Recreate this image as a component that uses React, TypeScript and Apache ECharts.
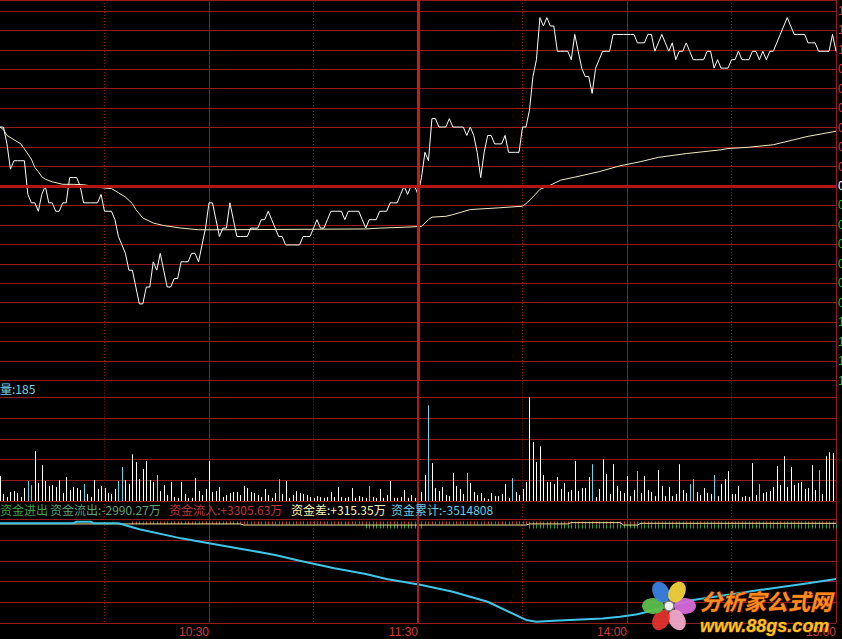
import React, { useEffect, useRef } from 'react';
import * as echarts from 'echarts';

// ---------- data ----------
const PREV_CLOSE = 15.4; // yuan
const TIME_LABELS: Record<number, string> = { 60: '10:30', 120: '11:30', 180: '14:00', 240: '15:00' };

// price per minute, in cents above the previous close (09:30 .. 15:00, lunch removed)
const priceCents = [
  7, 7, 5, 2, 3, 3, 3, 3, -1, -2,
  -2, -3, -1, 0, -2, -2, -3, -3, -2, -2,
  1, 1, 1, 0, -2, -2, -2, -2, -2, -1,
  -3, -3, -3, -4, -6, -7, -8, -10, -10, -12,
  -14, -14, -12, -12, -9, -10, -8, -10, -12, -12,
  -11, -11, -9, -9, -9, -8, -8, -9, -7, -5,
  -2, -2, -4, -6, -5, -5, -2, -4, -6, -6,
  -6, -6, -5, -5, -5, -4, -4, -3, -4, -5,
  -6, -6, -7, -7, -7, -7, -7, -6, -6, -6,
  -5, -4, -5, -5, -4, -3, -3, -3, -3, -4,
  -3, -3, -3, -3, -4, -5, -4, -4, -4, -3,
  -3, -3, -2, -2, -2, -1, 0, -1, 0, 0,
  -1, 1, 4, 3, 8, 8, 7, 7, 7, 8,
  7, 7, 7, 7, 6, 7, 6, 4, 1, 4,
  6, 6, 5, 5, 5, 6, 4, 4, 4, 4,
  7, 7, 9, 13, 15, 20, 19, 20, 19, 19,
  16, 16, 16, 16, 15, 18, 16, 14, 13, 13,
  11, 14, 15, 16, 16, 16, 18, 18, 18, 18,
  18, 18, 18, 17, 17, 17, 18, 18, 16, 17,
  18, 17, 16, 17, 15, 16, 16, 17, 16, 15,
  15, 15, 15, 16, 16, 14, 15, 14, 14, 14,
  15, 15, 16, 15, 15, 15, 16, 16, 15, 16,
  15, 16, 16, 17, 18, 19, 20, 19, 18, 18,
  18, 18, 17, 17, 17, 16, 16, 16, 16, 18,
  16,
];

// average price line, [minute, cents above previous close]
const avgCentsKeys: [number, number][] = [
  [0, 7.0], [1, 6.7], [2, 6.0], [4, 5.5], [6, 5.0], [7, 4.4], [9, 3.2], [10, 2.2], [11, 1.7], [12, 1.1],
  [13, 0.8], [15, 0.5], [18, 0.2], [21, 0.2], [24, 0.15], [27, -0.05], [30, -0.25], [32, -0.3], [34, -0.8],
  [36, -1.3], [38, -2.1], [39, -2.8], [41, -3.8], [44, -4.4], [47, -4.7], [52, -5.0], [57, -5.2], [62, -5.2],
  [105, -5.1], [109, -5.0], [116, -4.9], [121, -4.8], [123, -4.0], [124, -3.7], [128, -3.6], [130, -3.4],
  [135, -2.8], [143, -2.6], [150, -2.4], [151, -2.1], [153, -1.3], [155, -0.4], [158, 0.1], [161, 0.7],
  [165, 1.05], [172, 1.7], [178, 2.4], [184, 2.9], [189, 3.4], [197, 3.85], [207, 4.3], [209, 4.45],
  [215, 4.6], [222, 4.9], [228, 5.5], [232, 5.9], [240, 6.5],
];

// volume per minute (lots)
const volumes = [
  96, 27, 15, 35, 38, 31, 15, 50, 77, 61,
  192, 69, 138, 77, 58, 61, 54, 81, 31, 92,
  42, 54, 50, 42, 65, 27, 15, 81, 46, 58,
  50, 31, 27, 46, 77, 131, 81, 65, 180, 150,
  84, 123, 154, 81, 73, 100, 38, 61, 23, 73,
  15, 12, 73, 27, 12, 12, 88, 38, 23, 46,
  154, 35, 38, 54, 15, 23, 31, 35, 35, 23,
  58, 50, 35, 31, 23, 15, 46, 23, 12, 31,
  84, 27, 77, 12, 23, 38, 31, 27, 23, 15,
  12, 19, 15, 12, 15, 35, 15, 54, 15, 12,
  15, 50, 12, 19, 15, 12, 58, 15, 12, 46,
  12, 23, 77, 12, 12, 15, 42, 12, 23, 12,
  84, 35, 100, 369, 146, 50, 38, 54, 23, 19,
  108, 58, 46, 27, 108, 69, 35, 23, 31, 12,
  8, 31, 19, 19, 27, 65, 12, 88, 35, 23,
  46, 73, 400, 227, 150, 211, 100, 73, 73, 65,
  92, 46, 69, 35, 42, 154, 38, 50, 50, 92,
  142, 15, 46, 161, 104, 27, 142, 58, 38, 31,
  96, 19, 42, 115, 31, 96, 42, 35, 19, 119,
  58, 19, 54, 19, 27, 142, 42, 31, 65, 84,
  35, 23, 50, 31, 27, 100, 19, 65, 84, 115,
  27, 27, 58, 15, 19, 15, 146, 23, 65, 31,
  35, 38, 54, 134, 61, 173, 54, 131, 61, 69,
  73, 46, 50, 138, 42, 119, 27, 173, 188, 185,
];
// minutes whose volume bar is drawn in cyan (price fell)
const downVolumeMinutes = [8, 9, 24, 34, 35, 45, 80, 106, 120, 123, 134, 147, 170, 183, 198, 199, 205, 218, 235];

// cumulative fund flow, [minute, 万元]
const flowCumKeys: [number, number][] = [
  [0, 0], [21, 0], [22, 10], [26, 10], [27, 0], [34, 0], [40, -38], [52, -95], [60, -126], [71, -168],
  [79, -200], [86, -236], [96, -284], [105, -320], [111, -351], [121, -389], [130, -432], [140, -495],
  [151, -610], [154, -621], [159, -615], [173, -600], [178, -589], [183, -574], [199, -484], [218, -421],
  [232, -379], [240, -351.48],
];
// fund difference line, [minute, 万元]
const flowDiffKeys: [number, number][] = [
  [0, -4], [69, -4], [70, -11], [151, -11], [152, -4], [163, -4], [164, 4], [178, 4], [179, -11],
  [183, -11], [184, 0], [240, 0],
];
// minute spans with inflow ticks (red, up) and outflow ticks (green, down)
const inflowSpans: [number, number][] = [[38, 240]];
const outflowSpans: [number, number][] = [[105, 121], [152, 240]];

const flowHeaderTexts = ['资金进出', '资金流出:-2990.27万', '资金流入:+3305.63万', '资金差:+315.35万', '资金累计:-3514808'];
const flowHeaderColors = ['#41a245', '#5ea374', '#c23636', '#fff6b4', '#66cfe4'];

// ---------- styles ----------
const GRID = '#931c1c';
const GRID_DOT = '#8a1a1a';
const FONT = "'Liberation Sans','Noto Sans CJK SC',sans-serif";
const CJK = "'Noto Sans CJK SC','Liberation Sans',sans-serif";

export default function App() {
  const ref = useRef<HTMLDivElement>(null);
  useEffect(() => {
    document.body.style.margin = '0';
    document.body.style.background = '#000';
    const chart = echarts.init(ref.current!, null, { renderer: 'svg' });
    const toPct = (c: number) => (c / 100 / PREV_CLOSE) * 100;
    const priceData = priceCents.map((c, i) => [i, toPct(c)]);
    const avgData = avgCentsKeys.map(([m, c]) => [m, toPct(c)]);
    const downSet = new Set(downVolumeMinutes);
    const volData = volumes.map((v, i) => [i, v, downSet.has(i) ? 1 : 0]);

    const W = 836;
    const MAIN_H = 380.5;
    const VOL_TOP = 380.5, VOL_H = 120.5;
    const FLOW_TOP = 501, FLOW_H = 122.2;
    const FLOW_ZERO_Y = 523.3, FLOW_PX = 0.15847;

    const xAxisFor = (gridIndex: number, labels: boolean) => ({
      type: 'value', gridIndex, min: 0, max: 240, interval: 60,
      axisLine: { show: false }, axisTick: { show: false },
      axisLabel: labels
        ? {
            show: true, showMinLabel: false, showMaxLabel: true, align: 'right', margin: 3,
            color: '#d23c3c', fontSize: 12, fontFamily: FONT,
            formatter: (v: number) => TIME_LABELS[Math.round(v)] ?? '',
          }
        : { show: false },
      splitLine: { show: true, showMinLine: false, showMaxLine: true, lineStyle: { color: GRID, width: 1 } },
      minorTick: { show: false, splitNumber: 2 },
      minorSplitLine: { show: true, lineStyle: { color: GRID_DOT, type: [1, 2], width: 1 } },
    });

    const thickMain = { xAxis: 120, lineStyle: { color: '#c21d1d', width: 3, type: 'solid' } };
    const thickLow = { xAxis: 120, lineStyle: { color: '#a81b1b', width: 2, type: 'solid' } };
    const markLineBase = { silent: true, symbol: ['none', 'none'], label: { show: false }, animation: false };

    const headerX = [0, 50, 169, 291, 391];

    const petals = [
      { a: 0, c: '#d66ad8' }, { a: 60, c: '#f3a9c9' }, { a: 120, c: '#e2332e' },
      { a: 180, c: '#5cbf4b' }, { a: 240, c: '#3b82e0' }, { a: 300, c: '#f2d23a' },
    ];
    const fcx = 669, fcy = 606, fr = 16;

    const gridBase = { left: 0, width: W, containLabel: false, outerBoundsMode: 'none' };

    const option: any = {
      animation: false,
      backgroundColor: '#000000',
      grid: [
        { ...gridBase, top: 0, height: MAIN_H },
        { ...gridBase, top: VOL_TOP, height: VOL_H },
        { ...gridBase, top: FLOW_TOP, height: FLOW_H },
      ],
      xAxis: [xAxisFor(0, false), xAxisFor(1, false), xAxisFor(2, true)],
      yAxis: [
        {
          type: 'value', gridIndex: 0, position: 'right', min: -1.5, max: 1.4344, interval: 0.15,
          axisLine: { show: false }, axisTick: { show: false },
          axisLabel: {
            show: true, margin: 2, fontSize: 12, fontFamily: FONT,
            formatter: (v: number) => Math.abs(v).toFixed(2) + '%',
            color: (v: any) => {
              const n = Number(v);
              return n > 1e-9 ? '#e23434' : n < -1e-9 ? '#23c023' : '#ffffff';
            },
          },
          splitLine: { show: true, lineStyle: { color: GRID, width: 1 } },
        },
        {
          type: 'value', gridIndex: 1, min: 0, max: 464.6, interval: 80,
          axisLine: { show: false }, axisTick: { show: false }, axisLabel: { show: false },
          splitLine: { show: true, lineStyle: { color: GRID, width: 1 } },
        },
        {
          type: 'value', gridIndex: 2, min: 0, max: FLOW_H / 20.8, interval: 1,
          axisLine: { show: false }, axisTick: { show: false }, axisLabel: { show: false },
          splitLine: { show: true, lineStyle: { color: GRID, width: 1 } },
        },
        {
          type: 'value', gridIndex: 2, show: false,
          min: -(FLOW_TOP + FLOW_H - FLOW_ZERO_Y) / FLOW_PX,
          max: (FLOW_ZERO_Y - FLOW_TOP) / FLOW_PX,
          splitLine: { show: false },
        },
      ],
      series: [
        {
          type: 'line', xAxisIndex: 0, yAxisIndex: 0, data: [], z: 1, silent: true,
          markLine: {
            ...markLineBase,
            data: [{ yAxis: 0, lineStyle: { color: '#b31515', width: 3, type: 'solid' } }, thickMain],
          },
        },
        {
          name: 'avg', type: 'line', xAxisIndex: 0, yAxisIndex: 0, data: avgData, symbol: 'none',
          lineStyle: { color: '#f2ecc2', width: 1 }, silent: true, z: 3,
        },
        {
          name: 'price', type: 'line', xAxisIndex: 0, yAxisIndex: 0, data: priceData, symbol: 'none',
          lineStyle: { color: '#ffffff', width: 1 }, silent: true, z: 4,
        },
        {
          name: 'volume', type: 'custom', xAxisIndex: 1, yAxisIndex: 1, data: volData, silent: true, z: 3,
          encode: { x: 0, y: 1 },
          renderItem: (_p: any, api: any) => {
            const top = api.coord([api.value(0), api.value(1)]);
            const base = api.coord([api.value(0), 0]);
            const x = Math.round(top[0]) + 0.5;
            return {
              type: 'line',
              shape: { x1: x, y1: base[1], x2: x, y2: top[1] },
              style: { stroke: api.value(2) ? '#74d2e6' : '#ffffff', lineWidth: 1 },
            };
          },
        },
        {
          type: 'line', xAxisIndex: 1, yAxisIndex: 1, data: [], z: 1, silent: true,
          markLine: { ...markLineBase, data: [thickLow] },
        },
        {
          type: 'line', xAxisIndex: 2, yAxisIndex: 2, data: [], z: 1, silent: true,
          markLine: { ...markLineBase, data: [thickLow] },
        },
        {
          name: 'diff', type: 'line', xAxisIndex: 2, yAxisIndex: 3, data: flowDiffKeys, symbol: 'none',
          lineStyle: { color: '#efe39a', width: 1 }, silent: true, z: 3,
        },
        {
          name: 'ticks', type: 'custom', xAxisIndex: 2, yAxisIndex: 3, silent: true, z: 3,
          data: [
            ...inflowSpans.map(([s, e]) => [s, e, 1]),
            ...outflowSpans.map(([s, e]) => [s, e, -1]),
          ],
          encode: { x: [0, 1], y: 2 },
          renderItem: (_p: any, api: any) => {
            const s = api.value(0), e = api.value(1), dir = api.value(2);
            const children: any[] = [];
            for (let m = s; m <= e; m++) {
              const pt = api.coord([m, -7]);
              const x = Math.round(pt[0]) + 0.5;
              children.push({
                type: 'line',
                shape: { x1: x, y1: pt[1], x2: x, y2: pt[1] - dir * (dir > 0 ? 3 : 4) },
                style: { stroke: dir > 0 ? '#c23a2c' : '#2f9d3b', lineWidth: 1 },
              });
            }
            return { type: 'group', children };
          },
        },
        {
          name: 'cum', type: 'line', xAxisIndex: 2, yAxisIndex: 3, data: flowCumKeys, symbol: 'none',
          lineStyle: { color: '#3fc6e6', width: 2 }, silent: true, z: 4,
        },
      ],
      graphic: [
        {
          type: 'text', x: 0, y: 388, z: 10, silent: true,
          style: {
            text: '量:' + volumes[volumes.length - 1], fill: '#6fd3e8', font: `12px ${CJK}`,
            textVerticalAlign: 'middle', verticalAlign: 'middle',
          },
        },
        ...flowHeaderTexts.map((t, i) => ({
          type: 'text', x: headerX[i], y: 509, z: 10, silent: true,
          style: {
            text: t, fill: flowHeaderColors[i], font: `12px ${CJK}`,
            textVerticalAlign: 'middle', verticalAlign: 'middle',
          },
        })),
        // watermark logo
        ...petals.map((p) => {
          const rad = (p.a * Math.PI) / 180;
          return {
            type: 'ellipse', z: 20, silent: true,
            x: fcx + fr * Math.cos(rad), y: fcy + fr * Math.sin(rad), rotation: -rad,
            shape: { cx: 0, cy: 0, rx: 11, ry: 8 },
            style: { fill: p.c, opacity: 0.95 },
          };
        }),
        {
          type: 'circle', z: 21, silent: true, shape: { cx: fcx, cy: fcy, r: 5 },
          style: { fill: '#eeeeee', stroke: '#7a7a7a', lineWidth: 1.5 },
        },
        {
          type: 'text', x: 700, y: 600, z: 22, silent: true,
          style: {
            text: '分析家公式网', fill: '#ff8a1c', stroke: '#6a2400', lineWidth: 1,
            font: `italic bold 22px ${CJK}`, textVerticalAlign: 'middle', verticalAlign: 'middle',
          },
        },
        {
          type: 'text', x: 700, y: 626, z: 22, silent: true,
          style: {
            text: 'www.88gs.com', fill: '#ffc21c', stroke: '#6a3a00', lineWidth: 1,
            font: `italic bold 18px ${FONT}`, textVerticalAlign: 'middle', verticalAlign: 'middle',
          },
        },
      ],
    };
    chart.setOption(option);
    return () => chart.dispose();
  }, []);
  return <div ref={ref} style={{ width: 842, height: 639, background: '#000' }} />;
}
